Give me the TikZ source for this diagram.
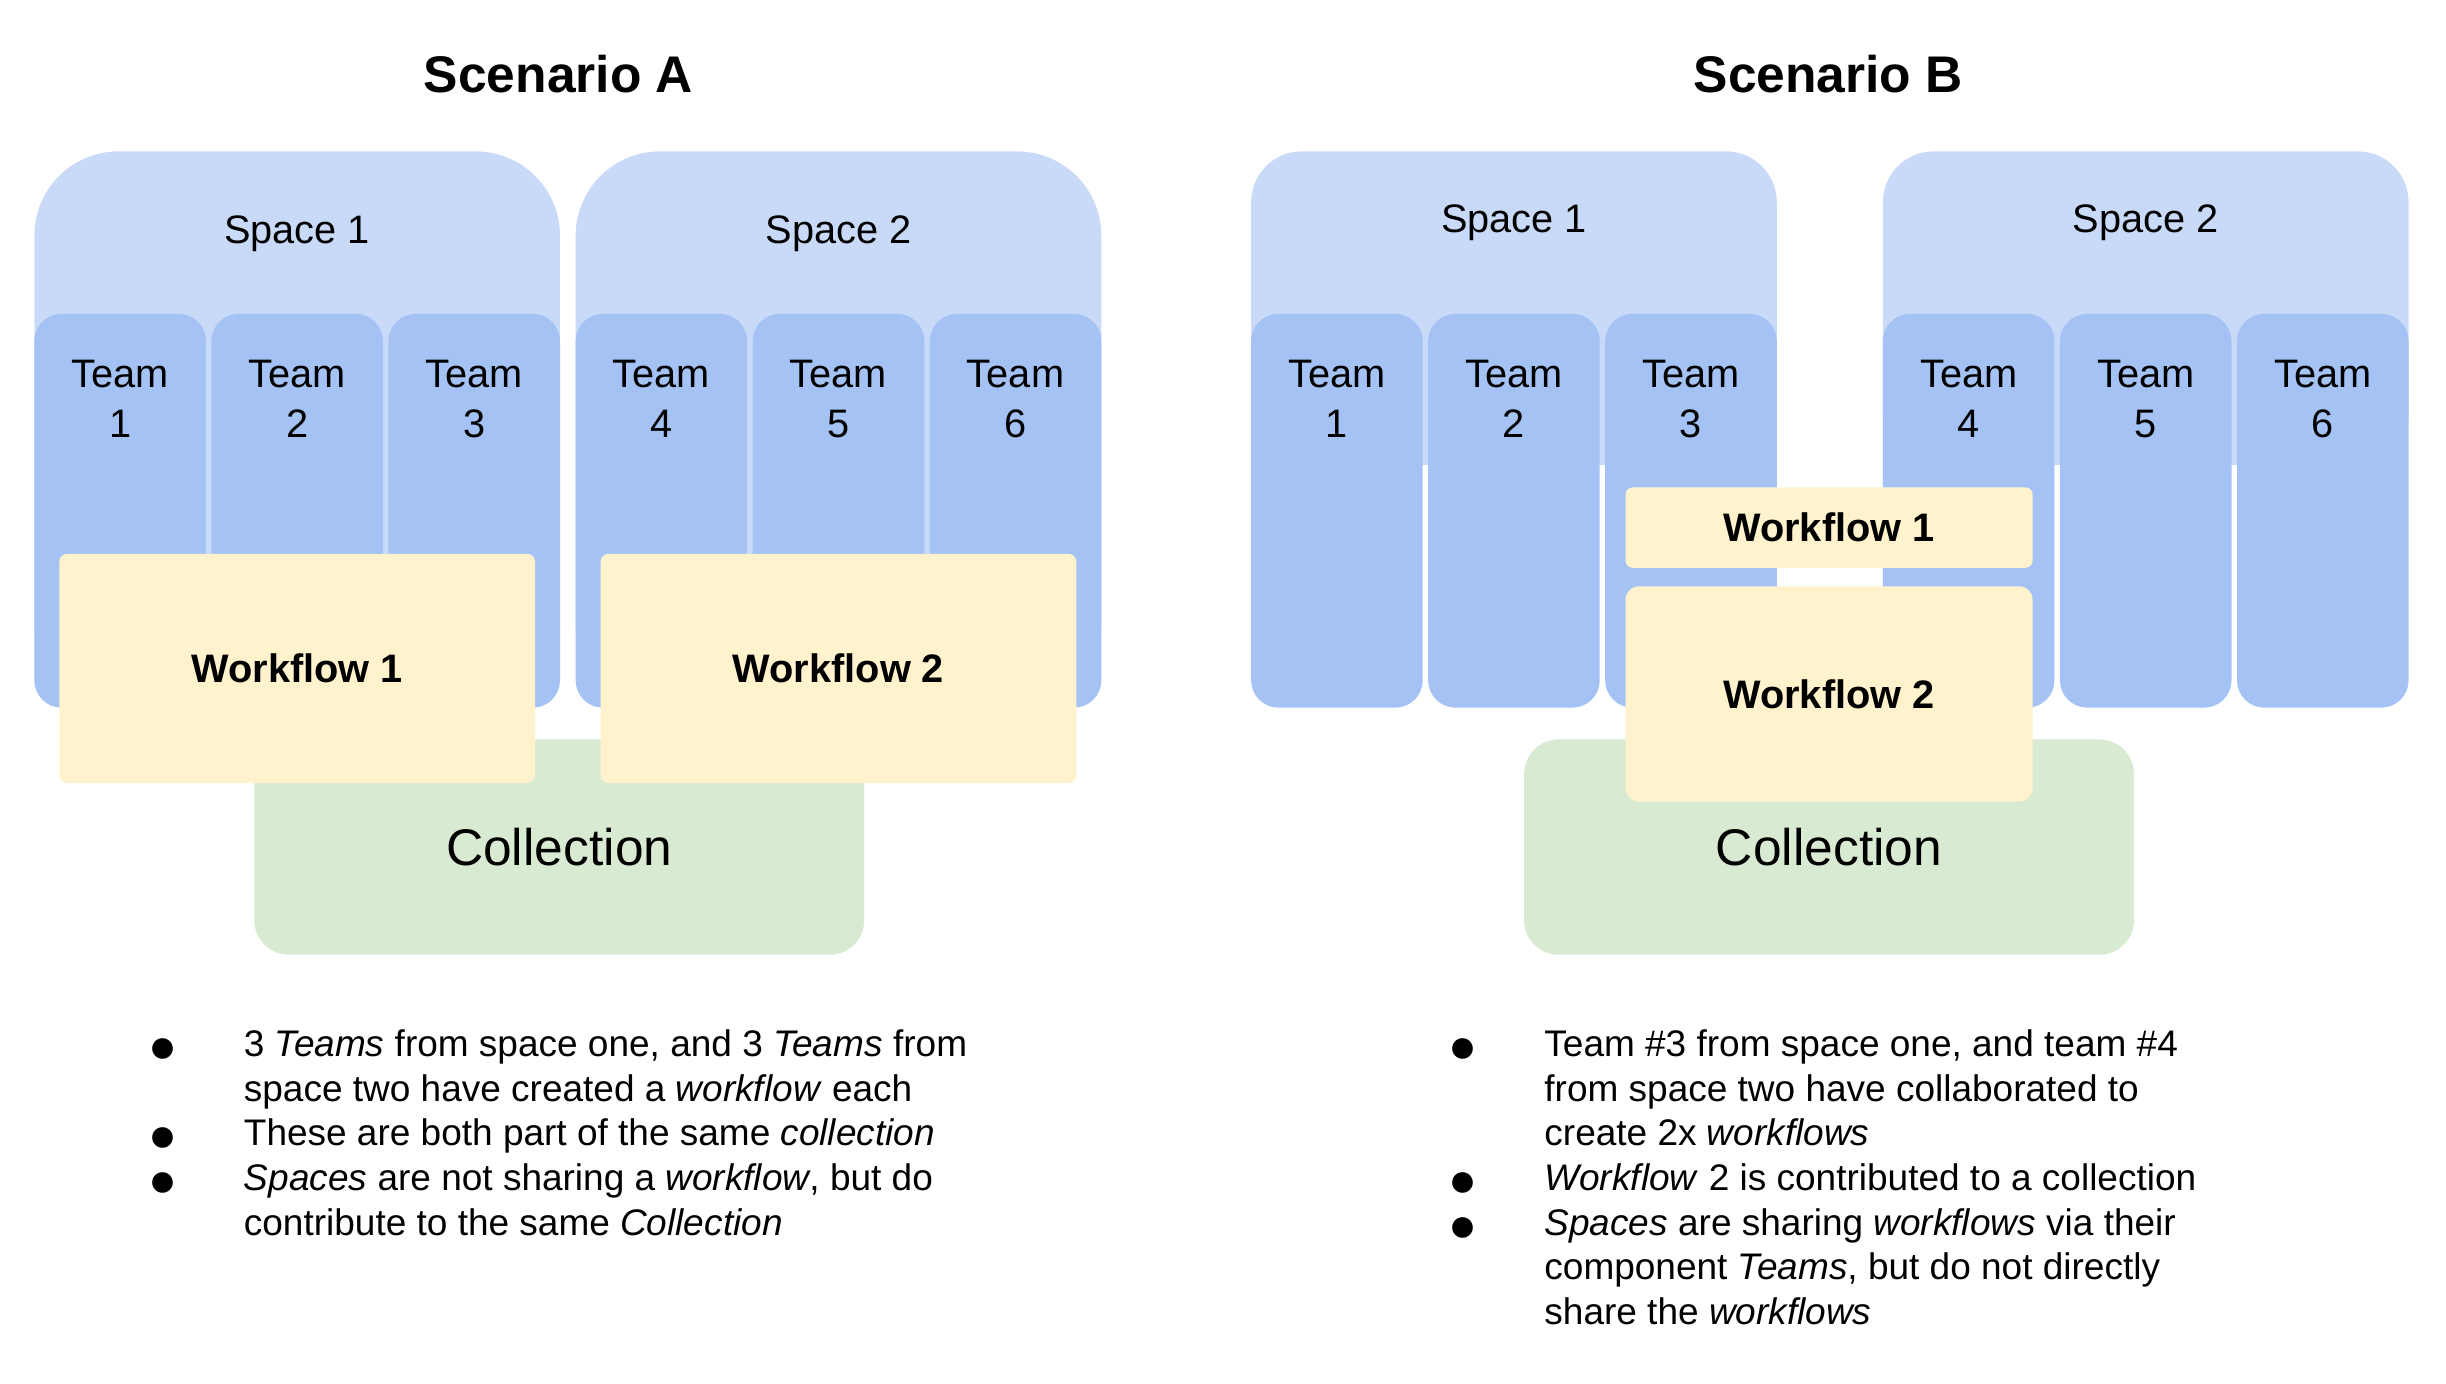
\documentclass[tikz,border=0pt]{standalone}
\usepackage{fontspec}
\setmainfont{Liberation Sans}
\usetikzlibrary{positioning}
\definecolor{spaceblue}{HTML}{C9DAF8}
\definecolor{teamblue}{HTML}{A4C2F4}
\definecolor{flowyellow}{HTML}{FFF2CC}
\definecolor{collgreen}{HTML}{D9EAD3}

\begin{document}
\begin{tikzpicture}[x=0.02cm, y=-0.02cm, every node/.style={inner sep=0pt},
  spc/.style={fill=spaceblue, minimum width=6.74cm},
  slabel/.style={font=\fontsize{14.5}{17}\selectfont},
  team/.style={fill=teamblue, rounded corners=0.35cm, minimum width=2.2cm, minimum height=5.05cm},
  tname/.style={align=center, font=\fontsize{14.5}{18.2}\selectfont},
  flow/.style={fill=flowyellow, font=\fontsize{14.5}{17}\selectfont\bfseries},
  coll/.style={fill=collgreen, rounded corners=0.44cm, minimum width=7.82cm, minimum height=2.76cm, font=\fontsize{18.8}{22}\selectfont},
  title/.style={anchor=base, font=\fontsize{18.8}{22}\selectfont\bfseries},
  note/.style={anchor=base west, align=left, font=\fontsize{13.5}{16.3}\selectfont},
  dot/.style={font=\fontsize{17.5}{20}\selectfont}]
\useasboundingbox (0,0) rectangle (1568,887);

% Scenario A
\node[title] (tA) at (358,59.4) {Scenario A};
\node[spc, rounded corners=1.08cm, minimum height=7.16cm] (sA1) at (190.5,276) {};
\node[spc, rounded corners=1.08cm, minimum height=7.16cm] (sA2) at (537.5,276) {};
\node[slabel, below=0.83cm of sA1.north] (lA1) {Space 1};
\node[slabel, below=0.83cm of sA2.north] (lA2) {Space 2};
\foreach \n/\x in {1/77,2/190.5,3/304,4/424,5/537.5,6/651} {
  \node[team] (tA\n) at (\x,327.4) {};
  \node[tname, below=0.6cm of tA\n.north] (nA\n) {Team\\\n};
}
\node[coll] (cA) at (358.5,543) {Collection};
\node[flow, rounded corners=0.1cm, minimum width=6.1cm, minimum height=2.94cm] (wA1) at (190.5,428.5) {Workflow 1};
\node[flow, rounded corners=0.1cm, minimum width=6.1cm, minimum height=2.94cm] (wA2) at (537.5,428.5) {Workflow 2};

% notes A (base = last line)
\node[dot] (bA1) at (104.7,673.5) {●};
\node[dot] (bA2) at (104.7,730.7) {●};
\node[dot] (bA3) at (104.7,759.3) {●};
\node[note] (iA1) at (156,706) {3 \textit{Teams} from space one, and 3 \textit{Teams} from\\space two have created a \textit{workflow} each};
\node[note] (iA2) at (156,734.6) {These are both part of the same \textit{collection}};
\node[note] (iA3) at (156,791.8) {\textit{Spaces} are not sharing a \textit{workflow}, but do\\contribute to the same \textit{Collection}};

% Scenario B
\node[title] (tB) at (1172,59.4) {Scenario B};
\node[spc, rounded corners=0.65cm, minimum height=4.02cm] (sB1) at (970.5,197.5) {};
\node[spc, rounded corners=0.65cm, minimum height=4.02cm] (sB2) at (1375.5,197.5) {};
\node[slabel, below=0.69cm of sB1.north] (lB1) {Space 1};
\node[slabel, below=0.69cm of sB2.north] (lB2) {Space 2};
\foreach \n/\x in {1/857,2/970.5,3/1084,4/1262,5/1375.5,6/1489} {
  \node[team] (tB\n) at (\x,327.4) {};
  \node[tname, below=0.6cm of tB\n.north] (nB\n) {Team\\\n};
}
\node[coll] (cB) at (1172.5,543) {Collection};
\node[flow, rounded corners=0.09cm, minimum width=5.22cm, minimum height=1.03cm] (wB1) at (1172.5,338.2) {Workflow 1};
\node[flow, rounded corners=0.17cm, minimum width=5.22cm, minimum height=2.76cm] (wB2) at (1172.5,444.8) {Workflow 2};

% notes B
\node[dot] (bB1) at (938,673.5) {●};
\node[dot] (bB2) at (938,759.3) {●};
\node[dot] (bB3) at (938,787.9) {●};
\node[note] (iB1) at (989.7,734.6) {Team \#3 from space one, and team \#4\\from space two have collaborated to\\create 2x \textit{workflows}};
\node[note] (iB2) at (989.7,763.2) {\textit{Workflow} 2 is contributed to a collection};
\node[note] (iB3) at (989.7,849) {\textit{Spaces} are sharing \textit{workflows} via their\\component \textit{Teams}, but do not directly\\share the \textit{workflows}};
\end{tikzpicture}
\end{document}
